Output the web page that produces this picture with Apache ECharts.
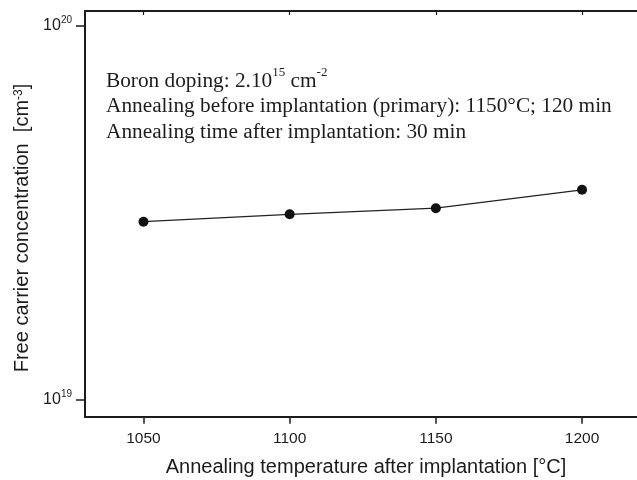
<!DOCTYPE html>
<html>
<head>
<meta charset="utf-8">
<script src="https://cdn.jsdelivr.net/npm/echarts@6/dist/echarts.min.js"></script>
<style>
html,body{margin:0;padding:0;background:#fff;}
#chart{width:637px;height:480px;}
</style>
</head>
<body>
<div id="chart"></div>
<script>
// ---- data ----
const temperatures = [1050, 1100, 1150, 1200];
const concentrations = [2.99e19, 3.13e19, 3.25e19, 3.64e19];
const xTickValues = [1050, 1100, 1150, 1200];
const yTickExponents = [19, 20];
const xRange = [1030, 1218.8];
const yRange = [8.98e18, 1.097e20];
const xTitle = 'Annealing temperature after implantation [°C]';
const yTitleMain = 'Free carrier concentration  [cm';
const annotationLines = [
  ['Boron doping: 2.10', '15', ' cm', '-2'],
  ['Annealing before implantation (primary): 1150°C; 120 min'],
  ['Annealing time after implantation: 30 min']
];

const ink = '#1c1c1c';
const sans = 'Liberation Sans, Arial, sans-serif';
const serif = 'Liberation Serif, Times New Roman, serif';

const chart = echarts.init(document.getElementById('chart'), null, {renderer: 'canvas'});

const annotationText = annotationLines.map(function (parts) {
  return parts.map(function (p, i) {
    return (i % 2 === 0) ? '{m|' + p + '}' : '{s|' + p + '}';
  }).join('');
}).join('\n');

const option = {
  animation: false,
  backgroundColor: '#fff',
  grid: {left: 85, right: 0, top: 11, bottom: 63.3, containLabel: false},
  xAxis: [{
    type: 'value', position: 'bottom', min: xRange[0], max: xRange[1],
    axisLine: {show: true, lineStyle: {color: ink, width: 2}},
    axisTick: {show: true, inside: false, length: 7, lineStyle: {color: ink, width: 1.5}, customValues: xTickValues},
    axisLabel: {show: true, customValues: xTickValues, margin: 14, color: ink, fontFamily: sans, fontSize: 15.5,
      formatter: function (v) { return String(v); }},
    splitLine: {show: false}
  }, {
    type: 'value', position: 'top', min: xRange[0], max: xRange[1],
    axisLine: {show: true, lineStyle: {color: ink, width: 2}},
    axisTick: {show: true, inside: true, length: 4, lineStyle: {color: ink, width: 1.2}, customValues: xTickValues},
    axisLabel: {show: false},
    splitLine: {show: false}
  }],
  yAxis: [{
    type: 'log', logBase: 10, position: 'left', min: yRange[0], max: yRange[1],
    axisLine: {show: true, lineStyle: {color: ink, width: 2}},
    axisTick: {show: false},
    axisLabel: {show: false},
    splitLine: {show: false},
    minorTick: {show: false}
  }, {
    type: 'value', position: 'left', min: Math.log10(yRange[0]), max: Math.log10(yRange[1]),
    axisLine: {show: false},
    axisTick: {show: true, length: 9, lineStyle: {color: ink, width: 1.5}, customValues: yTickExponents},
    axisLabel: {
      show: true, customValues: yTickExponents, margin: 13,
      formatter: function (v) { return '{b|10}{s|' + Math.round(v) + '}'; },
      rich: {
        b: {fontFamily: sans, fontSize: 16, color: ink, lineHeight: 21},
        s: {fontFamily: sans, fontSize: 10, color: ink, lineHeight: 10, verticalAlign: 'top'}
      }
    },
    splitLine: {show: false}
  }],
  series: [{
    type: 'line',
    xAxisIndex: 0, yAxisIndex: 0,
    data: temperatures.map(function (t, i) { return [t, concentrations[i]]; }),
    symbol: 'circle', symbolSize: 10,
    itemStyle: {color: '#111'},
    lineStyle: {color: '#222', width: 1.2},
    z: 5
  }],
  graphic: [{
    type: 'text', left: 106, top: 66, silent: true,
    style: {
      text: annotationText,
      rich: {
        m: {fontFamily: serif, fontSize: 21.3, lineHeight: 25.5, fill: ink, verticalAlign: 'bottom'},
        s: {fontFamily: serif, fontSize: 13, lineHeight: 13, fill: ink, verticalAlign: 'top'}
      }
    }
  }, {
    type: 'text', x: 366, y: 467.5, silent: true,
    style: {text: xTitle, fontFamily: sans, fontSize: 20, fill: ink, align: 'center', verticalAlign: 'middle'}
  }, {
    type: 'text', x: 22.5, y: 228, rotation: Math.PI / 2, silent: true,
    style: {
      text: '{m|' + yTitleMain + '}{s|-3}{m|]}',
      align: 'center', verticalAlign: 'middle',
      rich: {
        m: {fontFamily: sans, fontSize: 20, lineHeight: 20, fill: ink, verticalAlign: 'bottom'},
        s: {fontFamily: sans, fontSize: 12, lineHeight: 12, fill: ink, verticalAlign: 'top'}
      }
    }
  }]
};
chart.setOption(option);
</script>
</body>
</html>
